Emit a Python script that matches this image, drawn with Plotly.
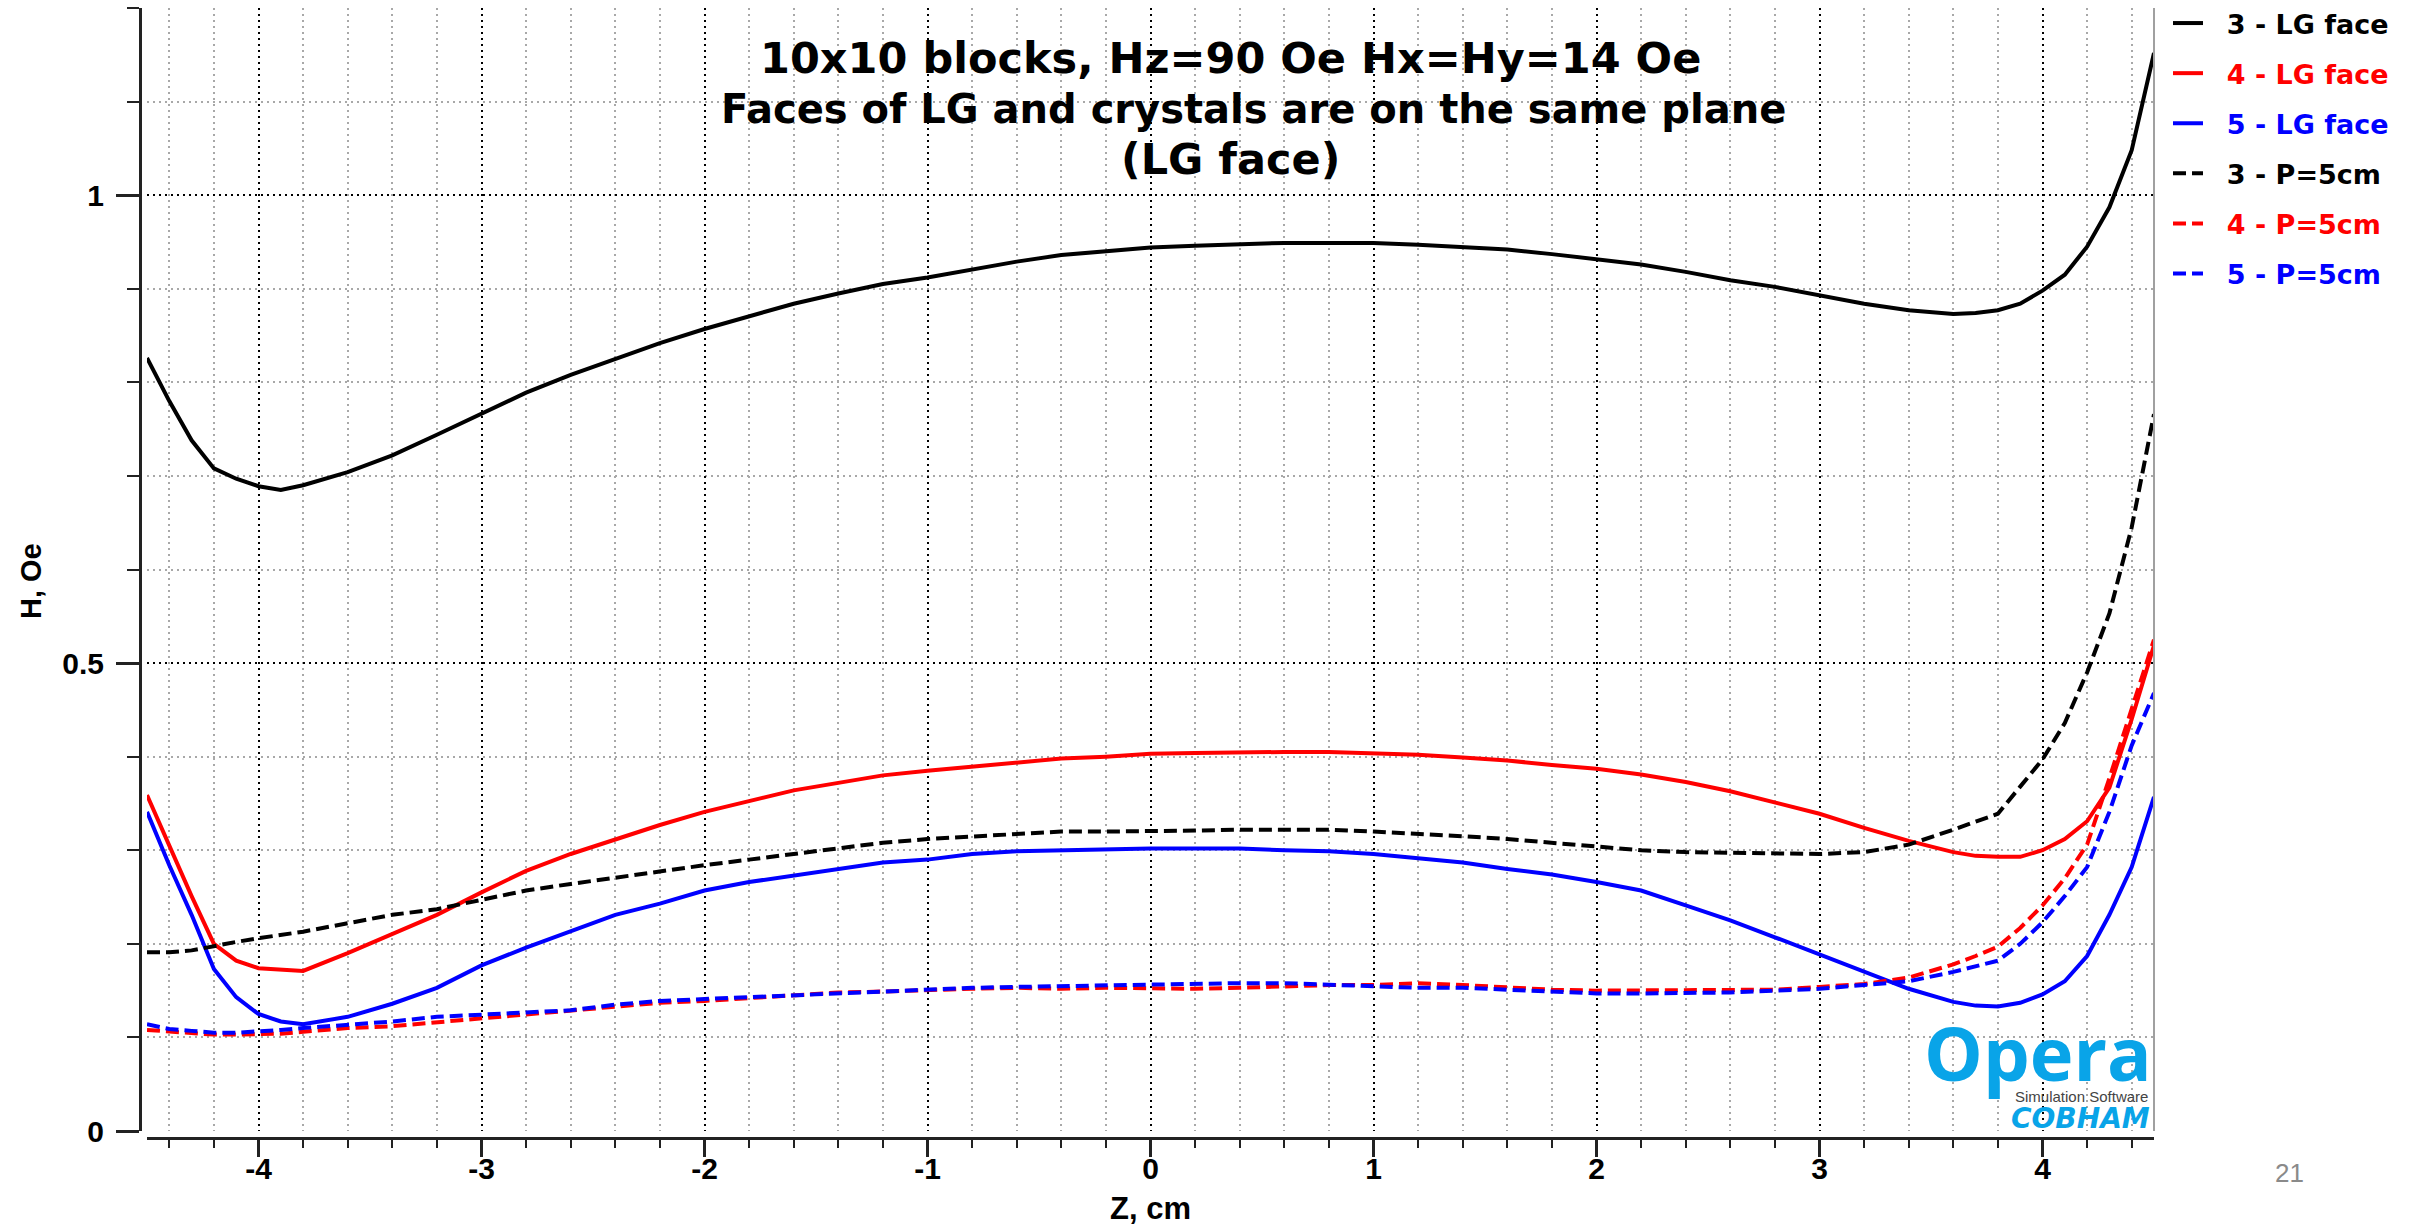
import plotly.graph_objects as go

# ---------------- data ----------------
z_cm = [-4.5, -4.4, -4.3, -4.2, -4.1, -4.0, -3.9, -3.8, -3.6, -3.4, -3.2, -3.0, -2.8, -2.6,
        -2.4, -2.2, -2.0, -1.8, -1.6, -1.4, -1.2, -1.0, -0.8, -0.6, -0.4, -0.2, 0.0, 0.2,
        0.4, 0.6, 0.8, 1.0, 1.2, 1.4, 1.6, 1.8, 2.0, 2.2, 2.4, 2.6, 2.8, 3.0, 3.2, 3.4,
        3.6, 3.7, 3.8, 3.9, 4.0, 4.1, 4.2, 4.3, 4.4, 4.5]

h3_lg = [0.826, 0.780, 0.738, 0.708, 0.697, 0.689, 0.685, 0.690, 0.704, 0.722, 0.744, 0.767, 0.789, 0.808,
         0.825, 0.842, 0.857, 0.871, 0.884, 0.895, 0.905, 0.912, 0.921, 0.929, 0.936, 0.940, 0.944, 0.946,
         0.948, 0.949, 0.949, 0.949, 0.947, 0.945, 0.942, 0.937, 0.932, 0.926, 0.918, 0.909, 0.902, 0.893,
         0.884, 0.877, 0.873, 0.874, 0.877, 0.884, 0.898, 0.915, 0.945, 0.987, 1.048, 1.152]

h4_lg = [0.359, 0.304, 0.251, 0.200, 0.182, 0.174, 0.172, 0.171, 0.190, 0.210, 0.231, 0.255, 0.278, 0.296,
         0.312, 0.327, 0.341, 0.353, 0.364, 0.372, 0.380, 0.385, 0.389, 0.394, 0.398, 0.400, 0.403, 0.404,
         0.405, 0.405, 0.405, 0.404, 0.402, 0.399, 0.396, 0.391, 0.387, 0.381, 0.373, 0.363, 0.351, 0.339,
         0.324, 0.310, 0.298, 0.294, 0.293, 0.293, 0.300, 0.312, 0.331, 0.367, 0.440, 0.519]

h5_lg = [0.341, 0.284, 0.231, 0.173, 0.143, 0.125, 0.117, 0.114, 0.122, 0.136, 0.153, 0.177, 0.196, 0.214,
         0.231, 0.243, 0.257, 0.266, 0.273, 0.280, 0.287, 0.290, 0.296, 0.299, 0.300, 0.302, 0.302, 0.302,
         0.302, 0.300, 0.299, 0.296, 0.291, 0.287, 0.280, 0.274, 0.266, 0.257, 0.241, 0.225, 0.207, 0.189,
         0.171, 0.152, 0.138, 0.134, 0.133, 0.137, 0.146, 0.160, 0.187, 0.231, 0.282, 0.357]

h3_p5 = [0.191, 0.191, 0.193, 0.198, 0.202, 0.206, 0.209, 0.213, 0.222, 0.231, 0.237, 0.247, 0.257, 0.264,
         0.271, 0.278, 0.284, 0.290, 0.296, 0.303, 0.308, 0.312, 0.315, 0.318, 0.320, 0.320, 0.320, 0.321,
         0.322, 0.322, 0.322, 0.320, 0.318, 0.315, 0.312, 0.308, 0.304, 0.300, 0.298, 0.297, 0.296, 0.296,
         0.298, 0.306, 0.322, 0.331, 0.339, 0.368, 0.397, 0.436, 0.490, 0.553, 0.645, 0.766]

h4_p5 = [0.108, 0.106, 0.104, 0.103, 0.103, 0.103, 0.104, 0.106, 0.110, 0.112, 0.116, 0.120, 0.124, 0.129,
         0.133, 0.137, 0.139, 0.142, 0.145, 0.148, 0.149, 0.151, 0.152, 0.153, 0.152, 0.153, 0.152, 0.152,
         0.153, 0.155, 0.156, 0.156, 0.158, 0.156, 0.153, 0.151, 0.150, 0.150, 0.150, 0.150, 0.151, 0.154,
         0.157, 0.164, 0.178, 0.187, 0.197, 0.217, 0.241, 0.270, 0.306, 0.377, 0.452, 0.525]

h5_p5 = [0.114, 0.109, 0.107, 0.105, 0.105, 0.106, 0.108, 0.110, 0.113, 0.117, 0.122, 0.124, 0.126, 0.129,
         0.135, 0.139, 0.141, 0.143, 0.146, 0.148, 0.149, 0.152, 0.153, 0.154, 0.155, 0.156, 0.156, 0.158,
         0.158, 0.158, 0.156, 0.155, 0.153, 0.153, 0.151, 0.149, 0.147, 0.147, 0.147, 0.148, 0.150, 0.152,
         0.156, 0.160, 0.170, 0.176, 0.182, 0.200, 0.223, 0.251, 0.282, 0.341, 0.412, 0.468]

series_names = ["3 - LG face", "4 - LG face", "5 - LG face", "3 - P=5cm", "4 - P=5cm", "5 - P=5cm"]
series_values = [h3_lg, h4_lg, h5_lg, h3_p5, h4_p5, h5_p5]
series_colors = ["#000000", "#ff0000", "#0000ff", "#000000", "#ff0000", "#0000ff"]
series_dash = ["solid", "solid", "solid", "13px,6px", "13px,6px", "13px,6px"]

x_tick_vals = [-4, -3, -2, -1, 0, 1, 2, 3, 4]
x_tick_text = ["-4", "-3", "-2", "-1", "0", "1", "2", "3", "4"]
y_tick_vals = [0, 0.5, 1]
y_tick_text = ["0", "0.5", "1"]

title_lines = ["10x10 blocks, Hz=90 Oe Hx=Hy=14 Oe",
               "Faces of LG and crystals are on the same plane",
               "(LG face)"]

# ---------------- figure ----------------
fig = go.Figure()
for name, vals, col, dash in zip(series_names, series_values, series_colors, series_dash):
    fig.add_trace(go.Scatter(
        x=z_cm, y=vals, mode="lines",
        line=dict(color=col, width=4, dash=dash),
        name=f"<span style='color:{col}'>\u00a0\u00a0{name}</span>",
        legendgroup=name,
    ))

W, H = 2430, 1226
ML, MR, MT, MB = 140, 276, 8, 88
PW = W - ML - MR
PH = H - MT - MB


def px(xpix):
    return (xpix - ML) / PW


def py(ypix):
    return (H - MB - ypix) / PH


tickfont = dict(family="Liberation Sans", size=30, color="black", weight="bold")
grid_major = dict(gridcolor="#000000", gridwidth=2, griddash="2px,4px")
grid_minor = dict(gridcolor="#a8a8a8", gridwidth=1.5, griddash="2px,4px")

fig.update_layout(
    width=W, height=H,
    margin=dict(l=ML, r=MR, t=MT, b=MB, autoexpand=False),
    paper_bgcolor="white", plot_bgcolor="white",
    showlegend=True,
    legend=dict(
        x=px(2168), y=py(-1), xanchor="left", yanchor="top",
        font=dict(family="DejaVu Sans", size=27, weight="bold"),
        tracegroupgap=12, bgcolor="rgba(0,0,0,0)", borderwidth=0,
        itemwidth=30,
    ),
    xaxis=dict(
        domain=[7 / PW, 1], anchor="free", position=0,
        range=[-4.5, 4.5], showline=True, linecolor="#222", linewidth=3,
        ticks="outside", ticklen=17, tickwidth=2.5, tickcolor="#222",
        tickmode="array", tickvals=x_tick_vals, ticktext=x_tick_text,
        tickfont=tickfont, ticklabelstandoff=-14,
        showgrid=True, zeroline=False, **grid_major,
        minor=dict(tickmode="linear", tick0=0, dtick=0.2, ticks="outside", ticklen=8,
                   tickwidth=2, tickcolor="#222", showgrid=True, **grid_minor),
    ),
    yaxis=dict(
        domain=[7 / PH, 1], anchor="free", position=0,
        range=[0, 1.2], showline=True, linecolor="#222", linewidth=3,
        ticks="outside", ticklen=23, tickwidth=2.5, tickcolor="#222",
        tickmode="array", tickvals=y_tick_vals, ticktext=y_tick_text,
        tickfont=tickfont, ticklabelstandoff=6,
        showgrid=True, zeroline=False, **grid_major,
        minor=dict(tickmode="linear", tick0=0, dtick=0.1, ticks="outside", ticklen=12,
                   tickwidth=2, tickcolor="#222", showgrid=True, **grid_minor),
    ),
)

annotations = []
for line, xpix, ypix, fsize in zip(title_lines, [1230, 1253, 1230], [58, 109, 159], [43, 40, 43]):
    annotations.append(dict(
        text=line, xref="paper", yref="paper", x=px(xpix), y=py(ypix),
        xanchor="center", yanchor="middle", showarrow=False,
        font=dict(family="DejaVu Sans", size=fsize, color="black", weight="bold"),
    ))
annotations += [
    dict(text="H, Oe", xref="paper", yref="paper", x=px(31), y=py(581), textangle=-90,
         xanchor="center", yanchor="middle", showarrow=False,
         font=dict(family="Liberation Sans", size=29, color="black", weight="bold")),
    dict(text="Z, cm", xref="paper", yref="paper", x=px(1150), y=py(1208),
         xanchor="center", yanchor="middle", showarrow=False,
         font=dict(family="Liberation Sans", size=31, color="black", weight="bold")),
    dict(text="Opera", xref="paper", yref="paper", x=px(2154), y=py(1052),
         xanchor="right", yanchor="middle", showarrow=False,
         font=dict(family="Open Sans", size=74, color="#09a4e8", weight="bold")),
    dict(text="Simulation Software", xref="paper", yref="paper", x=px(2150), y=py(1096),
         xanchor="right", yanchor="middle", showarrow=False,
         font=dict(family="Liberation Sans", size=15, color="#444444")),
    dict(text="COBHAM", xref="paper", yref="paper", x=px(2152), y=py(1118),
         xanchor="right", yanchor="middle", showarrow=False,
         font=dict(family="DejaVu Sans", size=28, color="#09a4e8", weight="bold", style="italic")),
    dict(text="21", xref="paper", yref="paper", x=px(2289), y=py(1173),
         xanchor="center", yanchor="middle", showarrow=False,
         font=dict(family="Liberation Sans", size=26, color="#8a8a8a")),
]
fig.update_layout(annotations=annotations)

fig.add_shape(type="line", xref="paper", yref="paper", x0=1, x1=1, y0=7 / PH, y1=1,
              line=dict(color="#a0a0a0", width=2))

fig.write_html("out.html")
